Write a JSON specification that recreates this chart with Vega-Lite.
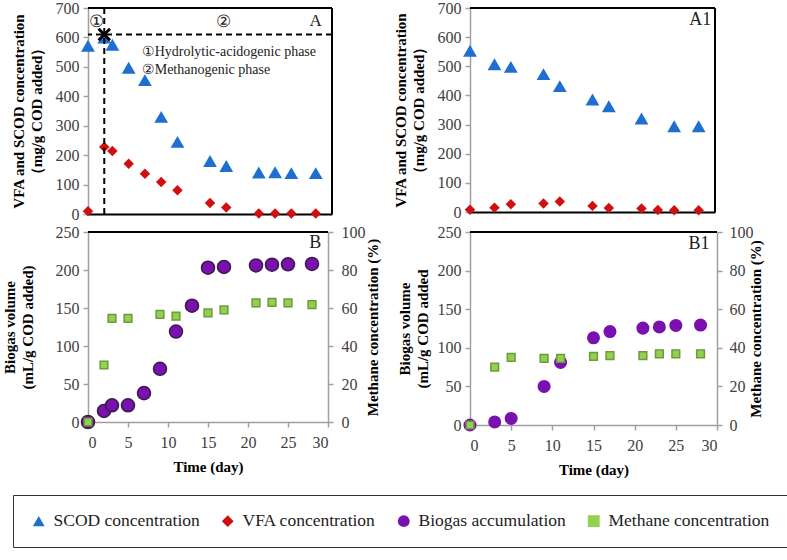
{
 "$schema": "https://vega.github.io/schema/vega-lite/v6.json",
 "padding": {"left": 2, "top": 0, "right": 2, "bottom": 2},
 "bounds": "flush",
 "columns": 2,
 "spacing": {"row": 18, "column": 138},
 "datasets": {
  "d": [
   {"panel": "A", "series": "SCOD concentration", "day": 0, "value": 572},
   {"panel": "A", "series": "SCOD concentration", "day": 2, "value": 600},
   {"panel": "A", "series": "SCOD concentration", "day": 3, "value": 575},
   {"panel": "A", "series": "SCOD concentration", "day": 5, "value": 497},
   {"panel": "A", "series": "SCOD concentration", "day": 7, "value": 455},
   {"panel": "A", "series": "SCOD concentration", "day": 9, "value": 330},
   {"panel": "A", "series": "SCOD concentration", "day": 11, "value": 245},
   {"panel": "A", "series": "SCOD concentration", "day": 15, "value": 180},
   {"panel": "A", "series": "SCOD concentration", "day": 17, "value": 163},
   {"panel": "A", "series": "SCOD concentration", "day": 21, "value": 141},
   {"panel": "A", "series": "SCOD concentration", "day": 23, "value": 142},
   {"panel": "A", "series": "SCOD concentration", "day": 25, "value": 139},
   {"panel": "A", "series": "SCOD concentration", "day": 28, "value": 139},
   {"panel": "A", "series": "VFA concentration", "day": 0, "value": 9},
   {"panel": "A", "series": "VFA concentration", "day": 2, "value": 228},
   {"panel": "A", "series": "VFA concentration", "day": 3, "value": 214},
   {"panel": "A", "series": "VFA concentration", "day": 5, "value": 171},
   {"panel": "A", "series": "VFA concentration", "day": 7, "value": 137},
   {"panel": "A", "series": "VFA concentration", "day": 9, "value": 109},
   {"panel": "A", "series": "VFA concentration", "day": 11, "value": 81},
   {"panel": "A", "series": "VFA concentration", "day": 15, "value": 37},
   {"panel": "A", "series": "VFA concentration", "day": 17, "value": 22},
   {"panel": "A", "series": "VFA concentration", "day": 21, "value": 2},
   {"panel": "A", "series": "VFA concentration", "day": 23, "value": 2},
   {"panel": "A", "series": "VFA concentration", "day": 25, "value": 2},
   {"panel": "A", "series": "VFA concentration", "day": 28, "value": 2},
   {"panel": "A1", "series": "SCOD concentration", "day": 0, "value": 553},
   {"panel": "A1", "series": "SCOD concentration", "day": 3, "value": 507},
   {"panel": "A1", "series": "SCOD concentration", "day": 5, "value": 498},
   {"panel": "A1", "series": "SCOD concentration", "day": 9, "value": 473},
   {"panel": "A1", "series": "SCOD concentration", "day": 11, "value": 432},
   {"panel": "A1", "series": "SCOD concentration", "day": 15, "value": 386},
   {"panel": "A1", "series": "SCOD concentration", "day": 17, "value": 363},
   {"panel": "A1", "series": "SCOD concentration", "day": 21, "value": 321},
   {"panel": "A1", "series": "SCOD concentration", "day": 25, "value": 294},
   {"panel": "A1", "series": "SCOD concentration", "day": 28, "value": 294},
   {"panel": "A1", "series": "VFA concentration", "day": 0, "value": 8},
   {"panel": "A1", "series": "VFA concentration", "day": 3, "value": 15},
   {"panel": "A1", "series": "VFA concentration", "day": 5, "value": 27},
   {"panel": "A1", "series": "VFA concentration", "day": 9, "value": 29},
   {"panel": "A1", "series": "VFA concentration", "day": 11, "value": 36},
   {"panel": "A1", "series": "VFA concentration", "day": 15, "value": 21},
   {"panel": "A1", "series": "VFA concentration", "day": 17, "value": 14},
   {"panel": "A1", "series": "VFA concentration", "day": 21, "value": 12},
   {"panel": "A1", "series": "VFA concentration", "day": 23, "value": 7},
   {"panel": "A1", "series": "VFA concentration", "day": 25, "value": 6},
   {"panel": "A1", "series": "VFA concentration", "day": 28, "value": 6},
   {"panel": "B", "series": "Biogas accumulation", "day": 0, "value": 0},
   {"panel": "B", "series": "Biogas accumulation", "day": 2, "value": 14.5},
   {"panel": "B", "series": "Biogas accumulation", "day": 3, "value": 22},
   {"panel": "B", "series": "Biogas accumulation", "day": 5, "value": 22},
   {"panel": "B", "series": "Biogas accumulation", "day": 7, "value": 38},
   {"panel": "B", "series": "Biogas accumulation", "day": 9, "value": 70},
   {"panel": "B", "series": "Biogas accumulation", "day": 11, "value": 119},
   {"panel": "B", "series": "Biogas accumulation", "day": 13, "value": 153},
   {"panel": "B", "series": "Biogas accumulation", "day": 15, "value": 203},
   {"panel": "B", "series": "Biogas accumulation", "day": 17, "value": 204},
   {"panel": "B", "series": "Biogas accumulation", "day": 21, "value": 206},
   {"panel": "B", "series": "Biogas accumulation", "day": 23, "value": 207},
   {"panel": "B", "series": "Biogas accumulation", "day": 25, "value": 207.5},
   {"panel": "B", "series": "Biogas accumulation", "day": 28, "value": 208},
   {"panel": "B", "series": "Methane concentration", "day": 0, "value": 0},
   {"panel": "B", "series": "Methane concentration", "day": 2, "value": 30},
   {"panel": "B", "series": "Methane concentration", "day": 3, "value": 54.5},
   {"panel": "B", "series": "Methane concentration", "day": 5, "value": 54.5},
   {"panel": "B", "series": "Methane concentration", "day": 9, "value": 56.6},
   {"panel": "B", "series": "Methane concentration", "day": 11, "value": 55.7},
   {"panel": "B", "series": "Methane concentration", "day": 15, "value": 57.4},
   {"panel": "B", "series": "Methane concentration", "day": 17, "value": 59},
   {"panel": "B", "series": "Methane concentration", "day": 21, "value": 62.7},
   {"panel": "B", "series": "Methane concentration", "day": 23, "value": 63},
   {"panel": "B", "series": "Methane concentration", "day": 25, "value": 62.7},
   {"panel": "B", "series": "Methane concentration", "day": 28, "value": 61.8},
   {"panel": "B1", "series": "Biogas accumulation", "day": 0, "value": 0},
   {"panel": "B1", "series": "Biogas accumulation", "day": 3, "value": 4},
   {"panel": "B1", "series": "Biogas accumulation", "day": 5, "value": 8.5},
   {"panel": "B1", "series": "Biogas accumulation", "day": 9, "value": 50},
   {"panel": "B1", "series": "Biogas accumulation", "day": 11, "value": 81},
   {"panel": "B1", "series": "Biogas accumulation", "day": 15, "value": 113},
   {"panel": "B1", "series": "Biogas accumulation", "day": 17, "value": 121},
   {"panel": "B1", "series": "Biogas accumulation", "day": 21, "value": 125.5},
   {"panel": "B1", "series": "Biogas accumulation", "day": 23, "value": 127},
   {"panel": "B1", "series": "Biogas accumulation", "day": 25, "value": 129},
   {"panel": "B1", "series": "Biogas accumulation", "day": 28, "value": 129.5},
   {"panel": "B1", "series": "Methane concentration", "day": 0, "value": 0},
   {"panel": "B1", "series": "Methane concentration", "day": 3, "value": 30},
   {"panel": "B1", "series": "Methane concentration", "day": 5, "value": 35},
   {"panel": "B1", "series": "Methane concentration", "day": 9, "value": 34.5},
   {"panel": "B1", "series": "Methane concentration", "day": 11, "value": 34.5},
   {"panel": "B1", "series": "Methane concentration", "day": 15, "value": 35.5},
   {"panel": "B1", "series": "Methane concentration", "day": 17, "value": 36},
   {"panel": "B1", "series": "Methane concentration", "day": 21, "value": 36},
   {"panel": "B1", "series": "Methane concentration", "day": 23, "value": 36.8},
   {"panel": "B1", "series": "Methane concentration", "day": 25, "value": 36.8},
   {"panel": "B1", "series": "Methane concentration", "day": 28, "value": 36.8}
  ]
 },
 "data": {"name": "d"},
 "resolve": {"scale": {"color": "shared", "shape": "shared"}, "legend": {"color": "shared", "shape": "shared"}},
 "concat": [
  {
   "width": 244,
   "height": 206,
   "layer": [
    {
     "transform": [{"filter": "datum.panel == 'A' && datum.series == 'SCOD concentration'"}],
     "mark": {"type": "point", "filled": true, "size": 190, "opacity": 1},
     "encoding": {
      "x": {"field": "day", "type": "quantitative", "scale": {"domain": [0, 30], "nice": false}, "axis": {"labels": false, "ticks": false, "domainColor": "black", "domainWidth": 2, "title": null}},
      "y": {"field": "value", "type": "quantitative", "scale": {"domain": [0, 700], "nice": false}, "axis": {"values": [0, 100, 200, 300, 400, 500, 600, 700], "titlePadding": 11, "title": ["VFA and SCOD concentration", "（mg/g COD added）"]}},
      "color": {"field": "series", "type": "nominal", "scale": {"domain": ["SCOD concentration", "VFA concentration", "Biogas accumulation", "Methane concentration"], "range": ["#1F6FD0", "#D01010", "#7B10B0", "#92D050"]}, "legend": {"title": null}},
      "shape": {"field": "series", "type": "nominal", "scale": {"domain": ["SCOD concentration", "VFA concentration", "Biogas accumulation", "Methane concentration"], "range": ["triangle-up", "diamond", "circle", "square"]}, "legend": {"title": null}}
     }
    },
    {
     "transform": [{"filter": "datum.panel == 'A' && datum.series == 'VFA concentration'"}],
     "mark": {"type": "point", "filled": true, "size": 110, "opacity": 1},
     "encoding": {
      "x": {"field": "day", "type": "quantitative", "scale": {"domain": [0, 30], "nice": false}, "axis": {"labels": false, "ticks": false, "domainColor": "black", "domainWidth": 2, "title": null}},
      "y": {"field": "value", "type": "quantitative", "scale": {"domain": [0, 700], "nice": false}, "axis": {"values": [0, 100, 200, 300, 400, 500, 600, 700], "titlePadding": 11, "title": ["VFA and SCOD concentration", "（mg/g COD added）"]}},
      "color": {"field": "series", "type": "nominal", "legend": {"title": null}},
      "shape": {"field": "series", "type": "nominal", "legend": {"title": null}}
     }
    },
    {"data": {"values": [{}]}, "mark": {"type": "rule", "color": "black", "strokeWidth": 2}, "encoding": {"y": {"datum": 700, "scale": {"domain": [0, 700], "nice": false}, "axis": {"values": [0, 100, 200, 300, 400, 500, 600, 700], "titlePadding": 11, "title": ["VFA and SCOD concentration", "（mg/g COD added）"]}}}},
    {"data": {"values": [{}]}, "mark": {"type": "rule", "color": "black", "strokeWidth": 2}, "encoding": {"x": {"datum": 30, "scale": {"domain": [0, 30], "nice": false}, "axis": {"labels": false, "ticks": false, "domainColor": "black", "domainWidth": 2, "title": null}}}},
    {"data": {"values": [{}]}, "mark": {"type": "rule", "color": "black", "strokeWidth": 2, "strokeDash": [6, 4]}, "encoding": {"y": {"datum": 610, "scale": {"domain": [0, 700], "nice": false}, "axis": {"values": [0, 100, 200, 300, 400, 500, 600, 700], "titlePadding": 11, "title": ["VFA and SCOD concentration", "（mg/g COD added）"]}}}},
    {"data": {"values": [{}]}, "mark": {"type": "rule", "color": "black", "strokeWidth": 2, "strokeDash": [6, 4]}, "encoding": {"x": {"datum": 2, "scale": {"domain": [0, 30], "nice": false}, "axis": {"labels": false, "ticks": false, "domainColor": "black", "domainWidth": 2, "title": null}}}},
    {"data": {"values": [{}]}, "mark": {"type": "point", "shape": "M-1,-1L1,1M-1,1L1,-1", "color": "black", "strokeWidth": 3, "size": 130, "filled": false, "opacity": 1}, "encoding": {"x": {"datum": 2, "scale": {"domain": [0, 30], "nice": false}, "axis": {"labels": false, "ticks": false, "domainColor": "black", "domainWidth": 2, "title": null}}, "y": {"datum": 610, "scale": {"domain": [0, 700], "nice": false}, "axis": {"values": [0, 100, 200, 300, 400, 500, 600, 700], "titlePadding": 11, "title": ["VFA and SCOD concentration", "（mg/g COD added）"]}}}},
    {"data": {"values": [{"label": "A", "x": 28, "y": 657}, {"label": "①", "x": 1.1, "y": 653}, {"label": "②", "x": 16.6, "y": 653}]}, "mark": {"type": "text", "color": "#222", "baseline": "middle", "align": "center", "fontSize": 17}, "encoding": {"x": {"field": "x", "type": "quantitative", "scale": {"domain": [0, 30], "nice": false}, "axis": {"labels": false, "ticks": false, "domainColor": "black", "domainWidth": 2, "title": null}}, "y": {"field": "y", "type": "quantitative", "scale": {"domain": [0, 700], "nice": false}, "axis": {"values": [0, 100, 200, 300, 400, 500, 600, 700], "titlePadding": 11, "title": ["VFA and SCOD concentration", "（mg/g COD added）"]}}, "text": {"field": "label"}}},
    {"data": {"values": [{"label": "①Hydrolytic-acidogenic phase", "x": 6.6, "y": 551}, {"label": "②Methanogenic phase", "x": 6.6, "y": 490}]}, "mark": {"type": "text", "fontSize": 14, "color": "#222", "align": "left", "baseline": "middle"}, "encoding": {"x": {"field": "x", "type": "quantitative", "scale": {"domain": [0, 30], "nice": false}, "axis": {"labels": false, "ticks": false, "domainColor": "black", "domainWidth": 2, "title": null}}, "y": {"field": "y", "type": "quantitative", "scale": {"domain": [0, 700], "nice": false}, "axis": {"values": [0, 100, 200, 300, 400, 500, 600, 700], "titlePadding": 11, "title": ["VFA and SCOD concentration", "（mg/g COD added）"]}}, "text": {"field": "label"}}}
   ]
  },
  {
   "width": 245,
   "height": 204,
   "layer": [
    {
     "transform": [{"filter": "datum.panel == 'A1' && datum.series == 'SCOD concentration'"}],
     "mark": {"type": "point", "filled": true, "size": 190, "opacity": 1},
     "encoding": {
      "x": {"field": "day", "type": "quantitative", "scale": {"domain": [0, 30], "nice": false}, "axis": {"labels": false, "ticks": false, "domainColor": "black", "domainWidth": 2, "title": null}},
      "y": {"field": "value", "type": "quantitative", "scale": {"domain": [0, 700], "nice": false}, "axis": {"values": [0, 100, 200, 300, 400, 500, 600, 700], "titlePadding": 11, "title": ["VFA and SCOD concentration", "（mg/g COD added）"]}},
      "color": {"field": "series", "type": "nominal", "legend": {"title": null}},
      "shape": {"field": "series", "type": "nominal", "legend": {"title": null}}
     }
    },
    {
     "transform": [{"filter": "datum.panel == 'A1' && datum.series == 'VFA concentration'"}],
     "mark": {"type": "point", "filled": true, "size": 110, "opacity": 1},
     "encoding": {
      "x": {"field": "day", "type": "quantitative", "scale": {"domain": [0, 30], "nice": false}, "axis": {"labels": false, "ticks": false, "domainColor": "black", "domainWidth": 2, "title": null}},
      "y": {"field": "value", "type": "quantitative", "scale": {"domain": [0, 700], "nice": false}, "axis": {"values": [0, 100, 200, 300, 400, 500, 600, 700], "titlePadding": 11, "title": ["VFA and SCOD concentration", "（mg/g COD added）"]}},
      "color": {"field": "series", "type": "nominal", "legend": {"title": null}},
      "shape": {"field": "series", "type": "nominal", "legend": {"title": null}}
     }
    },
    {"data": {"values": [{}]}, "mark": {"type": "rule", "color": "black", "strokeWidth": 2}, "encoding": {"y": {"datum": 700, "scale": {"domain": [0, 700], "nice": false}, "axis": {"values": [0, 100, 200, 300, 400, 500, 600, 700], "titlePadding": 11, "title": ["VFA and SCOD concentration", "（mg/g COD added）"]}}}},
    {"data": {"values": [{}]}, "mark": {"type": "rule", "color": "black", "strokeWidth": 2}, "encoding": {"x": {"datum": 30, "scale": {"domain": [0, 30], "nice": false}, "axis": {"labels": false, "ticks": false, "domainColor": "black", "domainWidth": 2, "title": null}}}},
    {"data": {"values": [{"label": "A1", "x": 28.2, "y": 660}]}, "mark": {"type": "text", "fontSize": 18, "color": "#222", "align": "center", "baseline": "middle"}, "encoding": {"x": {"field": "x", "type": "quantitative", "scale": {"domain": [0, 30], "nice": false}, "axis": {"labels": false, "ticks": false, "domainColor": "black", "domainWidth": 2, "title": null}}, "y": {"field": "y", "type": "quantitative", "scale": {"domain": [0, 700], "nice": false}, "axis": {"values": [0, 100, 200, 300, 400, 500, 600, 700], "titlePadding": 11, "title": ["VFA and SCOD concentration", "（mg/g COD added）"]}}, "text": {"field": "label"}}}
   ]
  },
  {
   "width": 240,
   "height": 190,
   "resolve": {"scale": {"y": "independent"}},
   "layer": [
    {
     "layer": [
      {
       "transform": [{"filter": "datum.panel == 'B' && datum.series == 'Biogas accumulation'"}],
       "mark": {"type": "point", "filled": true, "size": 170, "opacity": 1, "stroke": "#3A1A48", "strokeWidth": 1.5},
       "encoding": {
        "x": {"field": "day", "type": "quantitative", "scale": {"domain": [0, 30], "nice": false}, "axis": {"values": [0, 5, 10, 15, 20, 25, 30], "labelPadding": 7, "titlePadding": 9, "title": "Time (day)"}},
        "y": {"field": "value", "type": "quantitative", "scale": {"domain": [0, 250], "nice": false}, "axis": {"values": [0, 50, 100, 150, 200, 250], "titlePadding": 20, "title": ["Biogas volume", "(mL/g COD added)"]}},
        "color": {"field": "series", "type": "nominal", "legend": {"title": null}},
        "shape": {"field": "series", "type": "nominal", "legend": {"title": null}}
       }
      },
      {"data": {"values": [{}]}, "mark": {"type": "rule", "color": "black", "strokeWidth": 2}, "encoding": {"y": {"datum": 250, "scale": {"domain": [0, 250], "nice": false}, "axis": {"values": [0, 50, 100, 150, 200, 250], "titlePadding": 20, "title": ["Biogas volume", "(mL/g COD added)"]}}}},
      {"data": {"values": [{"label": "B", "x": 28.4, "y": 235}]}, "mark": {"type": "text", "fontSize": 18, "color": "#222", "align": "center", "baseline": "middle"}, "encoding": {"x": {"field": "x", "type": "quantitative", "scale": {"domain": [0, 30], "nice": false}, "axis": {"values": [0, 5, 10, 15, 20, 25, 30], "labelPadding": 7, "titlePadding": 9, "title": "Time (day)"}}, "y": {"field": "y", "type": "quantitative", "scale": {"domain": [0, 250], "nice": false}, "axis": {"values": [0, 50, 100, 150, 200, 250], "titlePadding": 20, "title": ["Biogas volume", "(mL/g COD added)"]}}, "text": {"field": "label"}}}
     ]
    },
    {
     "transform": [{"filter": "datum.panel == 'B' && datum.series == 'Methane concentration'"}],
     "mark": {"type": "point", "filled": true, "size": 60, "opacity": 1, "stroke": "#6E9A3A", "strokeWidth": 1.5},
     "encoding": {
      "x": {"field": "day", "type": "quantitative", "scale": {"domain": [0, 30], "nice": false}, "axis": {"values": [0, 5, 10, 15, 20, 25, 30], "labelPadding": 7, "titlePadding": 9, "title": "Time (day)"}},
      "y": {"field": "value", "type": "quantitative", "scale": {"domain": [0, 100], "nice": false}, "axis": {"orient": "right", "values": [0, 20, 40, 60, 80, 100], "title": "Methane concentration (%)", "titleAngle": -90, "labelPadding": 8, "titlePadding": 15}},
      "color": {"field": "series", "type": "nominal", "legend": {"title": null}},
      "shape": {"field": "series", "type": "nominal", "legend": {"title": null}}
     }
    }
   ]
  },
  {
   "width": 247,
   "height": 193,
   "resolve": {"scale": {"y": "independent"}},
   "layer": [
    {
     "layer": [
      {
       "transform": [{"filter": "datum.panel == 'B1' && datum.series == 'Biogas accumulation'"}],
       "mark": {"type": "point", "filled": true, "size": 170, "opacity": 1},
       "encoding": {
        "x": {"field": "day", "type": "quantitative", "scale": {"domain": [0, 30], "nice": false}, "axis": {"values": [0, 5, 10, 15, 20, 25, 30], "labelPadding": 7, "titlePadding": 9, "title": "Time (day)"}},
        "y": {"field": "value", "type": "quantitative", "scale": {"domain": [0, 250], "nice": false}, "axis": {"values": [0, 50, 100, 150, 200, 250], "titlePadding": 7, "title": ["Biogas volume", "(mL/g COD added"]}},
        "color": {"field": "series", "type": "nominal", "legend": {"title": null}},
        "shape": {"field": "series", "type": "nominal", "legend": {"title": null}}
       }
      },
      {"data": {"values": [{}]}, "mark": {"type": "rule", "color": "black", "strokeWidth": 2}, "encoding": {"y": {"datum": 250, "scale": {"domain": [0, 250], "nice": false}, "axis": {"values": [0, 50, 100, 150, 200, 250], "titlePadding": 7, "title": ["Biogas volume", "(mL/g COD added"]}}}},
      {"data": {"values": [{"label": "B1", "x": 27.8, "y": 235}]}, "mark": {"type": "text", "fontSize": 18, "color": "#222", "align": "center", "baseline": "middle"}, "encoding": {"x": {"field": "x", "type": "quantitative", "scale": {"domain": [0, 30], "nice": false}, "axis": {"values": [0, 5, 10, 15, 20, 25, 30], "labelPadding": 7, "titlePadding": 9, "title": "Time (day)"}}, "y": {"field": "y", "type": "quantitative", "scale": {"domain": [0, 250], "nice": false}, "axis": {"values": [0, 50, 100, 150, 200, 250], "titlePadding": 7, "title": ["Biogas volume", "(mL/g COD added"]}}, "text": {"field": "label"}}}
     ]
    },
    {
     "transform": [{"filter": "datum.panel == 'B1' && datum.series == 'Methane concentration'"}],
     "mark": {"type": "point", "filled": true, "size": 60, "opacity": 1, "stroke": "#6E9A3A", "strokeWidth": 1.5},
     "encoding": {
      "x": {"field": "day", "type": "quantitative", "scale": {"domain": [0, 30], "nice": false}, "axis": {"values": [0, 5, 10, 15, 20, 25, 30], "labelPadding": 7, "titlePadding": 9, "title": "Time (day)"}},
      "y": {"field": "value", "type": "quantitative", "scale": {"domain": [0, 100], "nice": false}, "axis": {"orient": "right", "values": [0, 20, 40, 60, 80, 100], "title": "Methane concentration (%)", "titleAngle": -90, "labelPadding": 7, "titlePadding": 10}},
      "color": {"field": "series", "type": "nominal", "legend": {"title": null}},
      "shape": {"field": "series", "type": "nominal", "legend": {"title": null}}
     }
    }
   ]
  }
 ],
 "config": {
  "font": "Liberation Serif",
  "view": {"stroke": null},
  "axis": {
   "labelFont": "Liberation Serif", "labelFontSize": 16, "labelColor": "#404040", "labelOverlap": false,
   "domainColor": "#A0A0A0", "tickColor": "#A0A0A0", "tickSize": 5, "domainWidth": 1.5, "tickWidth": 1.5,
   "grid": false, "labelPadding": 4,
   "titleFont": "Liberation Serif", "titleFontSize": 15, "titleFontWeight": "bold", "titleColor": "black",
   "titlePadding": 8, "titleLineHeight": 18
  },
  "legend": {
   "orient": "none", "legendX": -75, "legendY": 487,
   "direction": "horizontal", "columns": 4,
   "strokeColor": "#333", "padding": 17, "columnPadding": 19,
   "labelFont": "Liberation Serif", "labelFontSize": 17.5, "labelColor": "#222", "labelOffset": 6, "labelLimit": 0,
   "symbolSize": 140, "symbolStrokeWidth": 0, "symbolOpacity": 1
  },
  "text": {"font": "Liberation Serif"}
 }
}
